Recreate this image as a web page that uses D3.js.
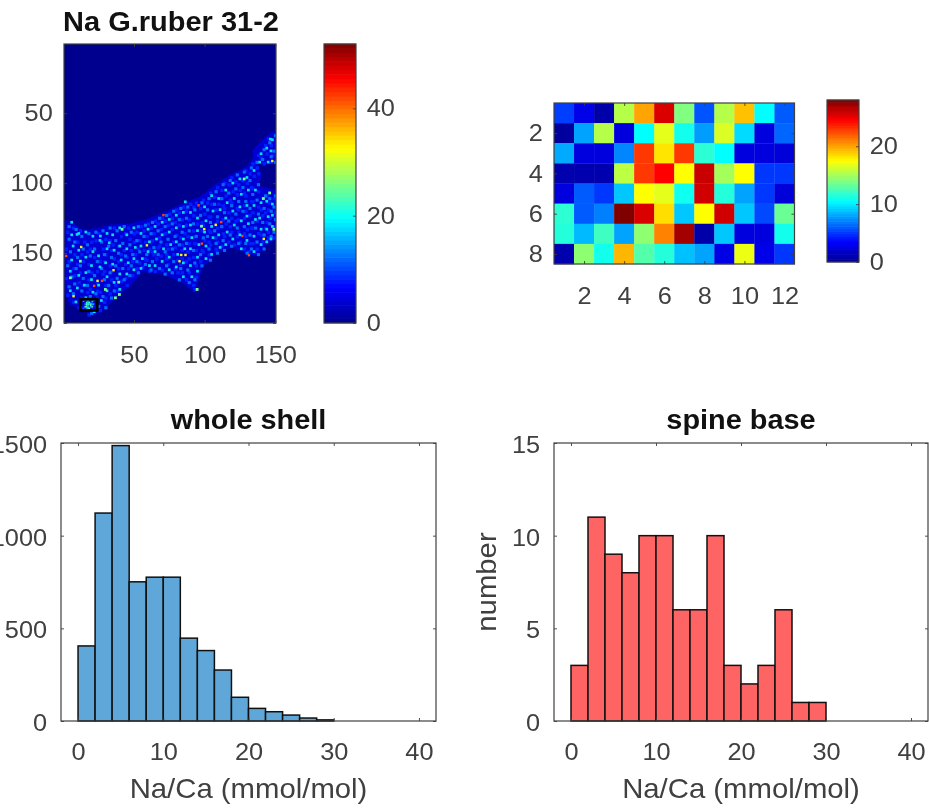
<!DOCTYPE html>
<html><head><meta charset="utf-8">
<script src="https://cdnjs.cloudflare.com/ajax/libs/d3/7.8.5/d3.min.js"></script>
<style>
html,body{margin:0;padding:0;background:#fff;overflow:hidden}
svg{display:block;filter:blur(0.4px)}
text{font-family:"Liberation Sans",Arial,sans-serif;fill:#404040}
</style></head><body>
<svg id="c" width="929" height="809"></svg>
<script>
// ---------- data ----------
const mapTitle = "Na G.ruber 31-2";
const wholeTitle = "whole shell";
const spineTitle = "spine base";
const xLabel = "Na/Ca (mmol/mol)";
const yLabel = "number";

const mapXTicks = [50,100,150];
const mapYTicks = [50,100,150,200];
const mapBarTicks = [0,20,40];
const mapMax = 52;
const spotXTicks = [2,4,6,8,10,12];
const spotYTicks = [2,4,6,8];
const spotBarTicks = [0,10,20];
const spotMax = 28;
const histXTicks = [0,10,20,30,40];
const wholeYTicks = [0,500,1000,1500];
const spineYTicks = [0,5,10,15];

const binWidth = 2;
const wholeCounts = [405,1122,1486,751,776,776,447,380,275,128,68,50,32,16,6,0,0,0,0,0];
const spineCounts = [3,11,9,8,10,10,6,6,10,3,2,3,6,1,1,0,0,0,0,0];

// spine-base spot, mmol/mol, 8 rows x 12 columns
const spotRows = [
 [5.2,2.8,0.8,15.5,20,25.5,14,5.8,15.5,19.2,10.5,6],
 [0.5,8,15.5,2.5,10.5,16.8,11,7.8,16.5,9.5,2.5,6.3],
 [8.2,2.5,2.5,7.2,23,18.2,23,11.7,10.5,2.5,2.5,2.3],
 [1,1,1,15.7,23,24.5,17.5,26,15,17.5,5,5],
 [2.5,6,5,9,17.5,16.8,10.9,25.8,11.5,8,5,2.3],
 [11.7,6,7,28,25.5,18.4,9,17.5,25.8,9,5.5,13.4],
 [11.5,8.6,12.2,8,14.4,20.9,27,0.8,9,2.5,2.5,11],
 [1,14.4,11,19.5,12.8,11.5,8.8,8,2.7,17,2.8,5]
];

// outline of the shell on the map, in image columns/rows
const shellOutline = [[0.5,126],[7,128.6],[14,133.5],[24,132],[33,129.6],[47,129],[61,125],[75,119],[85,114],[97,109.6],[106,102],[118,94],[130,88],[134.5,81],[133.5,77],[141,69],[147.5,63],[150.5,64],
 [150.5,86],[138,86],[140,95],[138.5,102],[150.5,105],
 [150.5,140],[143,145],[137,152],[130,151],[120,146],[108.5,150],[99,159.6],[93,178],[85,172],[73,166],[65,164],[56.6,163],[49.5,171],[40,179.8],[28,191],[21,195],[14,191],[4.8,186.9],[0.5,178]];
const shellBase = 3.8;

// visible speckles on the map, by brightness level
const blueLevel = 8;
const blueSpeckles = [[2,134],[6,131],[1,146],[7,150],[3,155],[6,160],[1,167],[7,165],[2,179],[6,184],[11,133],[9,141],[12,150],[9,157],[11,163],[10,170],[12,181],[10,188],[14,141],[16,148],[13,155],[17,157],[13,172],[17,168],[16,177],[13,184],[17,187],[19,141],[22,140],[18,146],[21,152],[19,163],[23,162],[18,175],[23,170],[20,184],[23,181],[17,193],[24,135],[27,146],[25,155],[28,155],[23,176],[27,164],[25,177],[28,184],[25,190],[29,139],[32,140],[29,150],[33,147],[28,162],[32,158],[29,172],[33,168],[32,178],[29,181],[35,131],[34,143],[38,144],[35,153],[33,162],[38,160],[36,172],[37,176],[40,137],[43,135],[38,155],[42,147],[40,150],[43,157],[40,169],[44,172],[45,131],[46,139],[44,152],[47,147],[45,160],[48,165],[43,167],[49,135],[51,134],[49,141],[52,146],[50,150],[48,155],[51,160],[54,130],[56,133],[53,140],[57,141],[56,147],[53,156],[57,153],[55,159],[59,128],[61,131],[58,137],[62,140],[60,146],[63,150],[58,154],[60,162],[64,126],[63,135],[66,128],[67,138],[62,148],[66,145],[65,153],[64,162],[69,124],[71,126],[68,132],[71,135],[67,144],[72,143],[68,151],[72,153],[69,161],[74,121],[76,124],[73,129],[76,132],[73,146],[77,141],[72,150],[77,150],[73,157],[78,160],[79,118],[81,120],[78,127],[81,129],[79,136],[82,138],[78,145],[83,147],[80,154],[83,153],[80,163],[84,116],[86,119],[83,125],[86,129],[85,135],[83,143],[87,148],[82,157],[86,155],[83,163],[86,168],[89,114],[91,116],[88,125],[91,122],[87,137],[91,133],[88,142],[92,142],[88,153],[91,152],[88,163],[91,172],[93,113],[96,117],[94,128],[97,127],[92,137],[97,133],[93,147],[97,147],[93,158],[96,155],[93,166],[92,175],[98,111],[101,113],[99,121],[102,123],[98,129],[102,133],[99,140],[102,141],[98,148],[102,150],[103,106],[106,109],[104,114],[107,118],[103,123],[107,128],[103,134],[107,138],[103,143],[107,146],[108,102],[111,104],[109,114],[112,115],[108,126],[112,125],[108,131],[112,135],[108,141],[111,144],[113,99],[116,100],[114,108],[117,111],[113,117],[116,120],[114,128],[117,130],[113,137],[116,141],[118,95],[121,98],[119,105],[122,107],[118,113],[122,117],[118,124],[121,126],[118,134],[122,137],[120,143],[123,100],[126,97],[124,104],[127,106],[123,118],[127,115],[123,125],[127,124],[123,134],[127,135],[124,141],[127,146],[128,90],[131,92],[129,99],[132,102],[128,108],[132,112],[128,119],[131,122],[129,132],[132,131],[128,137],[131,142],[130,148],[133,85],[136,88],[134,94],[137,92],[133,103],[137,105],[133,112],[137,116],[133,120],[136,126],[133,131],[137,135],[133,142],[136,146],[137,79],[139,81],[142,72],[140,110],[143,108],[139,118],[142,120],[140,122],[143,127],[139,136],[142,131],[140,141],[144,138],[144,67],[146,72],[143,78],[147,79],[141,85],[146,84],[145,113],[148,110],[144,118],[149,120],[145,124],[149,130],[144,134],[148,138]];
const lightLevel = 12;
const lightSpeckles = [[3,130],[3,139],[4,148],[2,158],[5,166],[3,173],[8,132],[7,141],[9,152],[8,160],[7,171],[6,178],[12,137],[13,146],[11,158],[13,167],[12,176],[14,187],[17,135],[16,143],[18,151],[17,162],[16,172],[18,180],[19,192],[22,134],[21,146],[23,155],[21,165],[22,178],[24,187],[27,133],[26,141],[28,150],[26,160],[28,168],[27,180],[29,188],[32,131],[31,144],[33,152],[32,163],[31,172],[33,181],[37,133],[36,140],[38,149],[36,158],[37,167],[35,176],[42,130],[41,142],[43,151],[41,160],[42,168],[47,134],[46,143],[48,150],[47,158],[46,165],[52,130],[51,140],[53,148],[51,155],[52,163],[57,129],[56,137],[58,150],[57,157],[62,127],[61,135],[63,145],[62,155],[61,161],[67,124],[66,133],[68,141],[66,150],[67,160],[72,122],[71,130],[73,139],[71,148],[72,158],[71,164],[77,119],[76,128],[78,137],[76,146],[77,155],[76,163],[82,117],[81,125],[83,134],[81,143],[82,160],[81,168],[87,116],[86,124],[88,133],[86,142],[87,161],[88,170],[92,118],[91,128],[93,137],[91,147],[92,156],[92,168],[97,113],[96,122],[98,138],[96,150],[97,158],[102,110],[101,118],[103,127],[101,137],[102,146],[103,154],[107,105],[106,114],[108,123],[106,133],[107,142],[108,149],[112,100],[111,110],[113,120],[111,130],[112,140],[113,147],[117,97],[116,106],[118,115],[116,126],[117,136],[118,144],[122,93],[121,103],[123,112],[121,121],[122,131],[123,142],[127,91],[126,102],[128,112],[126,119],[127,130],[128,142],[129,149],[132,88],[131,97],[133,107],[131,117],[133,127],[131,136],[132,146],[136,84],[137,100],[136,111],[137,121],[135,131],[136,141],[137,150],[141,75],[140,82],[142,108],[141,117],[140,127],[141,136],[141,146],[145,70],[146,80],[145,110],[146,119],[145,128],[146,137],[149,65],[148,76],[149,84],[149,108],[148,116],[149,125],[148,134]];
const cyanLevel = 18;
const cyanSpeckles = [[5,127],[5,136],[6,144],[5,154],[4,162],[4,176],[10,135],[10,147],[10,165],[9,174],[8,184],[15,134],[15,152],[15,163],[14,172],[15,181],[20,137],[20,148],[19,158],[19,168],[20,177],[21,191],[25,140],[24,151],[25,159],[24,172],[26,183],[30,135],[30,146],[29,156],[30,166],[30,176],[34,136],[35,147],[34,157],[35,170],[39,131],[39,144],[40,154],[39,164],[39,175],[44,136],[44,146],[45,156],[44,164],[49,131],[50,145],[49,153],[49,161],[54,135],[54,144],[55,153],[54,160],[59,132],[60,141],[59,148],[60,158],[64,130],[65,139],[64,148],[64,158],[69,127],[69,136],[70,146],[69,155],[74,125],[74,134],[75,143],[74,152],[74,161],[79,122],[79,131],[79,141],[80,150],[79,159],[84,120],[84,130],[84,139],[85,146],[84,156],[84,166],[89,120],[89,129],[90,138],[89,146],[89,158],[90,166],[94,124],[94,133],[95,143],[94,152],[94,162],[99,116],[100,126],[99,134],[100,144],[100,153],[104,108],[105,119],[104,130],[105,138],[104,150],[109,110],[110,118],[109,136],[110,145],[114,104],[115,113],[114,124],[115,134],[114,143],[119,99],[120,110],[119,119],[120,129],[119,139],[124,96],[125,107],[124,116],[125,126],[124,136],[125,146],[129,95],[130,104],[129,115],[130,128],[129,140],[134,90],[135,104],[134,115],[135,125],[134,137],[134,148],[139,78],[138,84],[139,113],[138,124],[139,132],[139,143],[143,74],[144,84],[143,112],[144,123],[143,132],[143,141],[147,68],[146,76],[147,114],[147,122],[147,130],[146,139],[145.6,67.6],[129,122.6],[85.4,112.4],[25.3,136.9],[31.6,141.7],[8.8,135.7]];
const greenLevel = 25;
const greenSpeckles = [[127,96],[140.6,110],[145,106],[96.8,129.8],[38.2,169.8],[28.8,175],[35.9,181],[38.7,178.6],[11.1,154.8],[40.6,132],[4,166.7],[148,132],[93.7,175]];
const yellowLevel = 33;
const yellowSpeckles = [[107,129],[147,83.3],[141,139],[58.3,143.6],[82.6,150.5],[85.6,150.5],[81.4,155],[98.9,132],[34.7,161.4],[23.4,169],[6.4,180],[11.8,144.8]];
const redLevel = 42;
const redSpeckles = [[125.8,136.9],[130.5,150.7],[110.9,127],[94.9,115],[70,122],[97.2,142.4],[26.5,169],[21,172.6],[1.2,151.2]];

// spine-base box on the map, image columns and rows
const spotBoxColumns = [12,24];
const spotBoxRows = [183,191];

// ---------- helpers ----------
const svg = d3.select("#c");
const textColor = "#404040";
const stretch = 1.07;
const tickFont = 23.7;
const jet = d3.scaleLinear()
  .domain([0,.125,.375,.625,.875,1])
  .range(["#00008f","#0000ff","#00ffff","#ffff00","#ff0000","#800000"]);

const defs = svg.append("defs");
defs.append("filter").attr("id","soft").attr("x","-5%").attr("y","-5%").attr("width","110%").attr("height","110%")
  .append("feGaussianBlur").attr("stdDeviation",0.4);

function styleAxis(g, fontSize, labelled, dy){
  g.select(".domain").remove();
  g.selectAll("line").attr("stroke",textColor).attr("stroke-width",0.9);
  if(labelled){
    g.attr("font-family",null).attr("font-size",null);
    g.selectAll("text").style("font-size",fontSize+"px").style("fill",textColor)
     .attr("transform",`scale(${stretch},1)`);
    if(dy) g.selectAll("text").attr("dy",dy);
  } else g.selectAll("text").remove();
}
function box(g, x, y, w, h){
  g.append("rect").attr("x",x).attr("y",y).attr("width",w).attr("height",h)
   .attr("fill","none").attr("stroke",textColor).attr("stroke-width",1.2);
}
function frame(g, sx, sy, xt, yt, r, opts={}){
  const tick = 3;
  const xa = d3.axisBottom(sx).tickValues(xt).tickSizeInner(-tick).tickSizeOuter(0).tickPadding(opts.xPad||23).tickFormat(d3.format("d"));
  const xb = d3.axisTop(sx).tickValues(xt).tickSizeInner(-tick).tickSizeOuter(0);
  const ya = d3.axisLeft(sy).tickValues(yt).tickSizeInner(-tick).tickSizeOuter(0).tickPadding(opts.yPad||10.5).tickFormat(d3.format("d"));
  const yb = d3.axisRight(sy).tickValues(yt).tickSizeInner(-tick).tickSizeOuter(0);
  g.append("g").attr("transform",`translate(0,${r.b})`).call(xa).call(s=>styleAxis(s,tickFont,true));
  g.append("g").attr("transform",`translate(0,${r.t})`).call(xb).call(s=>styleAxis(s,tickFont,false));
  g.append("g").attr("transform",`translate(${r.l},0)`).call(ya).call(s=>styleAxis(s,tickFont,true,opts.yDy));
  g.append("g").attr("transform",`translate(${r.r},0)`).call(yb).call(s=>styleAxis(s,tickFont,false));
  box(g,r.l,r.t,r.r-r.l,r.b-r.t);
}
function label(x,y,str,bold,size,rot){
  const t = svg.append("text").text(str).attr("text-anchor","middle")
   .style("font-size",size+"px").style("font-weight",bold?"bold":"normal")
   .style("fill",bold?"#111":textColor);
  t.attr("transform",`translate(${x},${y})${rot?` rotate(${rot})`:""} scale(${stretch},1)`);
}
function colorbar(r, max, ticks){
  const g = svg.append("g");
  const sy = d3.scaleLinear().domain([0,max]).range([r.b,r.t]);
  const levels = d3.range(64);
  g.selectAll("rect.lv").data(levels).join("rect").attr("class","lv")
   .attr("x",r.l).attr("width",r.r-r.l)
   .attr("y",i=>sy((i+1)/64*max)-0.3).attr("height",i=>sy(i/64*max)-sy((i+1)/64*max)+0.6)
   .attr("fill",i=>jet((i+.5)/64));
  const a = d3.axisRight(sy).tickValues(ticks).tickSizeInner(-3).tickSizeOuter(0).tickPadding(10).tickFormat(d3.format("d"));
  g.append("g").attr("transform",`translate(${r.r},0)`).call(a).call(s=>styleAxis(s,tickFont,true));
  box(g,r.l,r.t,r.r-r.l,r.b-r.t);
}
function hist(r, counts, yMax, yt, fill, title){
  const g = svg.append("g");
  const sx = d3.scaleLinear().domain([-2,42]).range([r.l,r.r]);
  const sy = d3.scaleLinear().domain([0,yMax]).range([r.b,r.t]);
  g.selectAll("rect.b").data(counts).join("rect").attr("class","b")
   .attr("x",(d,i)=>sx(i*binWidth)).attr("width",sx(binWidth)-sx(0))
   .attr("y",d=>sy(d)).attr("height",d=>sy(0)-sy(d))
   .attr("fill",fill).attr("stroke","#111").attr("stroke-width",d=>d>0?1.5:0);
  frame(g,sx,sy,histXTicks,yt,r,{xPad:22,yPad:13,yDy:".4em"});
  label((r.l+r.r)/2,429,title,true,27);
  label((r.l+r.r)/2,798,xLabel,false,27.4);
}

// ---------- map ----------
(function(){
  const r = {l:64,r:276,t:44,b:323};
  const g = svg.append("g");
  const sx = d3.scaleLinear().domain([0.5,150.5]).range([r.l,r.r]);
  const sy = d3.scaleLinear().domain([0.5,200]).range([r.t,r.b]);
  const cval = d3.scaleLinear().domain([0,mapMax]).range([0,1]);
  const clipId = "mapclip";
  defs.append("clipPath").attr("id",clipId).append("rect").attr("x",r.l).attr("y",r.t).attr("width",r.r-r.l).attr("height",r.b-r.t);
  g.append("rect").attr("x",r.l).attr("y",r.t).attr("width",r.r-r.l).attr("height",r.b-r.t).attr("fill",jet(0));
  const inner = g.append("g").attr("clip-path",`url(#${clipId})`).append("g").attr("filter","url(#soft)");
  const line = d3.line().x(d=>sx(d[0])).y(d=>sy(d[1])).curve(d3.curveLinearClosed);
  inner.append("path").attr("d",line(shellOutline)).attr("fill",jet(cval(shellBase)));
  const layers = [[blueSpeckles,blueLevel,2.4],[lightSpeckles,lightLevel,2.2],[cyanSpeckles,cyanLevel,1.9],[greenSpeckles,greenLevel,2],[yellowSpeckles,yellowLevel,1.7],[redSpeckles,redLevel,1.7]];
  layers.forEach(([pts,lv,size])=>{
    inner.append("g").selectAll("rect").data(pts).join("rect")
      .attr("x",d=>sx(d[0])).attr("y",d=>sy(d[1]))
      .attr("width",sx(size)-sx(0)).attr("height",sy(size)-sy(0))
      .attr("fill",jet(cval(lv)));
  });
  // spot inset uses the same values as the enlarged panel, on the map's colour range
  const cells = spotRows.flatMap((row,j)=>row.map((v,i)=>({i,j,v})));
  const cw = (spotBoxColumns[1]-spotBoxColumns[0])/12, ch=(spotBoxRows[1]-spotBoxRows[0])/8;
  inner.append("g").selectAll("rect").data(cells).join("rect")
    .attr("x",d=>sx(spotBoxColumns[0]+d.i*cw)).attr("y",d=>sy(spotBoxRows[0]+d.j*ch))
    .attr("width",sx(cw)-sx(0)+.2).attr("height",sy(ch)-sy(0)+.2)
    .attr("fill",d=>jet(d.v/mapMax));
  g.append("rect").attr("x",sx(spotBoxColumns[0])).attr("y",sy(spotBoxRows[0]))
    .attr("width",sx(spotBoxColumns[1])-sx(spotBoxColumns[0])).attr("height",sy(spotBoxRows[1])-sy(spotBoxRows[0]))
    .attr("fill","none").attr("stroke","#000").attr("stroke-width",2.8);
  frame(g,sx,sy,mapXTicks,mapYTicks,r);
  label(171,31,mapTitle,true,27.1);
})();
colorbar({l:324,r:356,t:44,b:323},mapMax,mapBarTicks);

// ---------- spot ----------
(function(){
  const r = {l:554,r:794.5,t:103,b:264};
  const g = svg.append("g");
  const sx = d3.scaleLinear().domain([0.5,12.5]).range([r.l,r.r]);
  const sy = d3.scaleLinear().domain([0.5,8.5]).range([r.t,r.b]);
  const cells = spotRows.flatMap((row,j)=>row.map((v,i)=>({c:i+1,rw:j+1,v})));
  g.selectAll("rect.cell").data(cells).join("rect").attr("class","cell")
   .attr("x",d=>sx(d.c-.5)).attr("y",d=>sy(d.rw-.5))
   .attr("width",sx(1)-sx(0)+.3).attr("height",sy(1)-sy(0)+.3)
   .attr("fill",d=>jet(d.v/spotMax));
  frame(g,sx,sy,spotXTicks,spotYTicks,r);
})();
colorbar({l:827,r:859,t:100,b:262},spotMax,spotBarTicks);

// ---------- histograms ----------
hist({l:61,r:436,t:443,b:721},wholeCounts,1500,wholeYTicks,"#5fa7d8",wholeTitle);
hist({l:554,r:928,t:443,b:721},spineCounts,15,spineYTicks,"#ff6464",spineTitle);
label(496,582,yLabel,false,27.4,-90);
</script>
</body></html>
